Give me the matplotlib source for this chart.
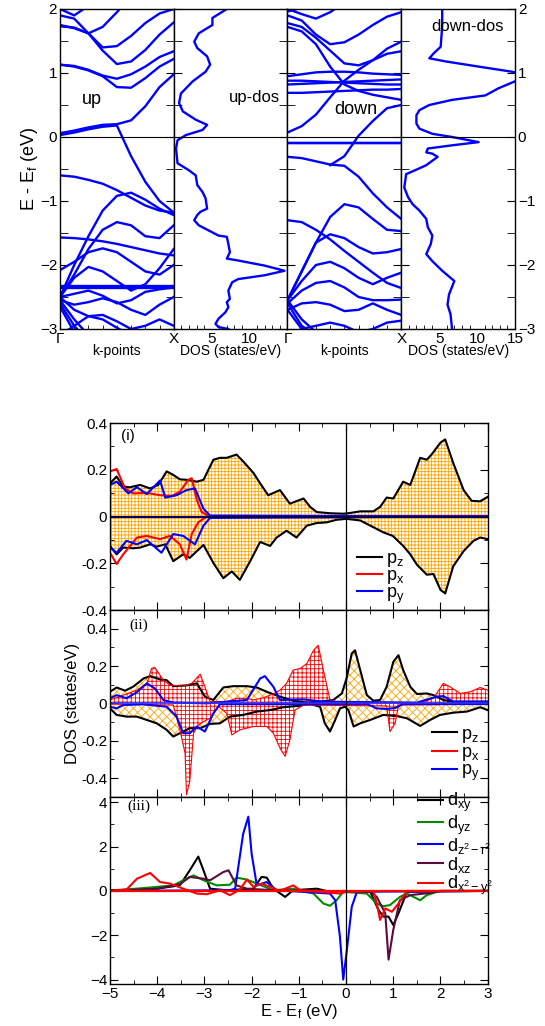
import numpy as np
import matplotlib
matplotlib.use("Agg")
import matplotlib.pyplot as plt
from matplotlib.ticker import MultipleLocator, FixedLocator

plt.rcParams['font.family'] = ['Liberation Sans', 'DejaVu Sans']
plt.rcParams['mathtext.fontset'] = 'custom'
plt.rcParams['mathtext.rm'] = 'Liberation Sans'
plt.rcParams['mathtext.it'] = 'Liberation Sans:italic'
plt.rcParams['hatch.linewidth'] = 0.6

n = np.nan
# ---------------- band structure data (k from Gamma to X) ----------------
k_pts = [0, 0.125, 0.25, 0.375, 0.5, 0.625, 0.75, 0.875, 1.0]

up_bands = [
    [0.06, 0.10, 0.15, 0.19, 0.20, 0.26, 0.48, 0.78, 0.98],
    [0.03, 0.07, 0.12, 0.16, 0.18, -0.30, -0.70, -1.00, -1.18],
    [1.13, 1.10, 1.04, 0.95, 0.78, 0.77, 0.92, 1.10, 1.22],
    [1.13, 1.11, 1.05, 0.96, 0.91, 0.98, 1.10, 1.25, 1.34],
    [1.73, 1.71, 1.62, 1.35, 1.14, 1.18, 1.36, 1.60, 1.79],
    [1.90, 1.85, 1.62, 1.40, 1.42, 1.58, 1.78, 1.93, 2.00],
    [1.75, 1.70, 1.62, 1.72, 1.95, 2.20, n, n, n],
    [2.00, 1.90, 2.05, n, n, n, n, n, n],
    [-0.60, -0.62, -0.67, -0.73, -0.83, -0.95, -1.07, -1.15, -1.18],
    [-2.50, -2.00, -1.55, -1.15, -0.92, -0.87, -0.98, -1.12, -1.22],
    [-1.57, -1.58, -1.60, -1.63, -1.67, -1.72, -1.77, -1.82, -1.85],
    [-2.50, -2.15, -1.75, -1.45, -1.33, -1.38, -1.55, -1.58, -1.38],
    [-2.08, -1.95, -1.80, -1.74, -1.80, -1.95, -2.10, -2.15, -2.00],
    [-2.33, -2.33, -2.33, -2.33, -2.33, -2.33, -2.33, -2.33, -2.33],
    [-2.36, -2.36, -2.36, -2.36, -2.36, -2.36, -2.36, -2.36, -2.36],
    [-2.50, -2.20, -2.03, -2.10, -2.25, -2.40, -2.30, -2.05, -1.75],
    [-2.50, -2.45, -2.40, -2.48, -2.60, -2.55, -2.42, -2.38, -2.35],
    [-2.55, -2.62, -2.58, -2.52, -2.58, -2.70, -2.78, -2.62, -2.50],
    [-2.50, -2.70, -2.80, -2.85, -2.98, -3.10, n, n, n],
    [-2.55, -2.85, -3.10, n, n, n, n, n, n],
    [-2.60, -2.95, -3.20, n, n, n, n, n, n],
    [-2.65, -3.05, n, n, n, n, n, n, n],
    [-3.10, -2.95, -2.80, -2.78, -2.88, -3.00, -2.95, -2.85, -2.95],
]

down_bands = [
    [0.07, 0.17, 0.35, 0.62, 0.88, 1.05, 1.20, 1.30, 1.34],
    [0.95, 0.98, 1.01, 1.02, 1.02, 1.01, 0.99, 0.98, 0.97],
    [0.88, 0.88, 0.87, 0.86, 0.85, 0.84, 0.83, 0.82, 0.82],
    [0.82, 0.83, 0.84, 0.85, 0.86, 0.87, 0.88, 0.89, 0.90],
    [0.69, 0.69, 0.70, 0.71, 0.72, 0.73, 0.74, 0.74, 0.75],
    [1.72, 1.65, 1.45, 1.10, 0.82, 0.72, 0.66, 0.62, 0.58],
    [1.78, 1.72, 1.55, 1.35, 1.15, 1.12, 1.20, 1.38, 1.49],
    [1.90, 1.82, 1.60, 1.45, 1.48, 1.60, 1.75, 1.88, 1.95],
    [2.00, 1.92, 1.85, 1.95, 2.10, n, n, n, n],
    [1.96, 2.02, n, n, n, n, n, n, n],
    [n, n, n, -0.44, -0.30, 0.02, 0.25, 0.45, 0.50],
    [-0.09, -0.09, -0.09, -0.09, -0.09, -0.09, -0.09, -0.09, -0.09],
    [-0.10, -0.10, -0.10, -0.10, -0.10, -0.10, -0.10, -0.10, -0.10],
    [-0.31, -0.33, -0.38, -0.43, -0.45, -0.62, -0.88, -1.10, -1.28],
    [-1.30, -1.33, -1.45, -1.60, -1.78, -1.95, -2.12, -2.28, -2.36],
    [-2.55, -2.10, -1.65, -1.25, -1.05, -1.10, -1.28, -1.45, -1.47],
    [-2.55, -2.10, -1.65, -1.52, -1.58, -1.72, -1.82, -1.80, -1.75],
    [-2.55, -2.25, -2.00, -1.95, -2.05, -2.20, -2.30, -2.20, -2.12],
    [-2.60, -2.40, -2.28, -2.25, -2.35, -2.50, -2.55, -2.55, -2.54],
    [-2.70, -2.60, -2.58, -2.62, -2.72, -2.70, -2.60, -2.70, -2.78],
    [-2.55, -2.85, -3.05, n, n, n, n, n, n],
    [-2.60, -2.95, -3.10, n, n, n, n, n, n],
    [-2.70, -3.00, n, n, n, n, n, n, n],
    [-3.10, -3.00, -2.95, -2.90, -2.95, -3.05, -3.00, -2.90, -2.87],
]

# ---------------- total DOS ----------------
up_dos_E = [2.0, 1.86, 1.75, 1.62, 1.49, 1.39, 1.26, 1.13, 1.02, 0.87, 0.68, 0.53, 0.40,
            0.27, 0.19, 0.11, 0.03, -0.05, -0.18, -0.41, -0.52, -0.60, -0.75, -0.86,
            -0.96, -1.12, -1.17, -1.22, -1.30, -1.38, -1.46, -1.54, -1.56, -1.67, -1.80,
            -1.90, -1.93, -2.01, -2.09, -2.16, -2.22, -2.27, -2.40, -2.53, -2.58, -2.66,
            -2.74, -2.84, -2.92, -2.97, -3.0]
up_dos = [7.0, 5.1, 5.1, 3.3, 2.7, 3.1, 4.4, 4.8, 4.2, 2.5, 0.95, 0.7, 1.2,
          2.9, 4.4, 3.8, 1.6, 0.5, 0.3, 0.5, 2.0, 2.9, 3.1, 3.8,
          4.2, 4.4, 3.5, 3.1, 2.7, 3.3, 4.6, 5.9, 7.0, 7.2, 7.4,
          7.0, 8.5, 12.0, 14.6, 12.0, 8.5, 7.7, 7.2, 7.4, 7.0, 7.2,
          6.8, 5.9, 5.5, 5.9, 7.2]

down_dos_E = [2.0, 1.73, 1.41, 1.31, 1.23, 1.18, 1.10, 1.02, 0.95, 0.86, 0.76, 0.65, 0.58,
              0.50, 0.42, 0.34, 0.21, 0.13, 0.05, 0.0, -0.08, -0.13, -0.18, -0.24,
              -0.26, -0.31, -0.44, -0.50, -0.58, -0.79, -0.94, -1.05, -1.15, -1.28,
              -1.41, -1.54, -1.67, -1.83, -1.94, -2.09, -2.25, -2.46, -2.62, -2.77, -3.0]
down_dos = [5.4, 5.4, 5.2, 4.3, 3.7, 5.9, 10.2, 14.6, 17.0, 14.8, 12.8, 11.1, 6.7,
            3.7, 2.4, 2.0, 2.0, 2.4, 4.1, 6.7, 10.2, 6.7, 3.5, 3.3,
            4.1, 4.8, 3.3, 2.2, 0.65, 0.4, 0.9, 1.5, 2.4, 3.3,
            3.5, 4.1, 3.9, 3.3, 4.1, 5.4, 7.0, 6.3, 6.1, 6.5, 6.7]

# ---------------- (i) p states ----------------
i_pz_up_E = [-5.0, -4.86, -4.72, -4.58, -4.36, -4.15, -3.98, -3.80, -3.66, -3.52, -3.38, -3.16,
             -3.02, -2.81, -2.67, -2.53, -2.32, -2.18, -1.96, -1.82, -1.65, -1.40, -1.19, -0.90,
             -0.76, -0.62, -0.34, -0.06, 0.05, 0.30, 0.58, 0.72, 0.86, 1.00, 1.21, 1.36, 1.57,
             1.71, 1.81, 2.00, 2.10, 2.27, 2.49, 2.66, 2.84, 3.0]
i_pz_up = [0.142, 0.171, 0.128, 0.125, 0.135, 0.12, 0.135, 0.193, 0.178, 0.159, 0.157, 0.149,
           0.157, 0.243, 0.251, 0.251, 0.265, 0.236, 0.186, 0.142, 0.091, 0.113, 0.055, 0.077,
           0.041, 0.019, 0.014, 0.012, 0.014, 0.022, 0.022, 0.041, 0.081, 0.077, 0.149, 0.135, 0.251,
           0.243, 0.265, 0.316, 0.330, 0.229, 0.113, 0.067, 0.065, 0.084]
i_pz_dn_E = [-5.0, -4.86, -4.72, -4.51, -4.36, -4.15, -4.01, -3.83, -3.66, -3.45, -3.31, -3.16,
             -3.02, -2.81, -2.60, -2.42, -2.25, -2.03, -1.82, -1.61, -1.47, -1.26, -1.05, -0.83,
             -0.62, -0.41, -0.20, 0.01, 0.30, 0.58, 0.79, 0.99, 1.21, 1.36, 1.50, 1.71, 1.85,
             2.00, 2.10, 2.27, 2.49, 2.70, 2.84, 3.0]
i_pz_dn = [-0.126, -0.162, -0.133, -0.136, -0.133, -0.119, -0.129, -0.119, -0.191, -0.162, -0.177, -0.148,
           -0.122, -0.199, -0.264, -0.235, -0.271, -0.191, -0.109, -0.126, -0.090, -0.061, -0.090, -0.039,
           -0.028, -0.025, -0.014, -0.010, -0.017, -0.046, -0.068, -0.083, -0.126, -0.162, -0.206, -0.249, -0.246,
           -0.314, -0.329, -0.213, -0.148, -0.104, -0.090, -0.097]
i_px_up_E = [-5.0, -4.86, -4.68, -4.51, -4.22, -3.94, -3.69, -3.52, -3.34, -3.27, -3.16, -3.06, -2.88, 3.0]
i_px_up = [0.193, 0.203, 0.120, 0.099, 0.101, 0.091, 0.088, 0.106, 0.157, 0.164, 0.070, 0.019, 0.0, 0.0]
i_px_dn_E = [-5.0, -4.86, -4.72, -4.43, -4.22, -3.94, -3.73, -3.52, -3.38, -3.27, -3.13, -2.95, 3.0]
i_px_dn = [-0.155, -0.203, -0.162, -0.090, -0.083, -0.097, -0.083, -0.119, -0.184, -0.075, -0.025, 0.0, 0.0]
i_py_up_E = [-5.0, -4.86, -4.61, -4.43, -4.22, -3.94, -3.83, -3.59, -3.38, -3.20, -3.02, -2.88, 3.0]
i_py_up = [0.135, 0.149, 0.099, 0.125, 0.096, 0.154, 0.081, 0.091, 0.113, 0.120, 0.033, 0.004, 0.0]
i_py_dn_E = [-5.0, -4.86, -4.65, -4.43, -4.22, -3.91, -3.66, -3.45, -3.20, -3.02, -2.88, 3.0]
i_py_dn = [-0.133, -0.155, -0.104, -0.119, -0.101, -0.155, -0.075, -0.083, -0.119, -0.039, -0.006, 0.0]

# ---------------- (ii) p states ----------------
ii_pz_up_E = [-5.0, -4.86, -4.68, -4.51, -4.29, -4.15, -3.94, -3.80, -3.66, -3.38, -3.16, -2.99,
              -2.81, -2.60, -2.39, -2.10, -1.89, -1.68, -1.40, -1.12, -0.83, -0.55, -0.27, -0.09,
              0.01, 0.12, 0.19, 0.30, 0.44, 0.58, 0.72, 0.86, 1.00, 1.11, 1.21, 1.36, 1.50, 1.71,
              1.85, 2.06, 2.27, 2.70, 3.0]
ii_pz_up = [0.062, 0.085, 0.068, 0.089, 0.133, 0.146, 0.128, 0.124, 0.092, 0.096, 0.107, 0.036,
            0.018, 0.085, 0.092, 0.092, 0.085, 0.062, 0.036, 0.014, 0.004, 0.009, 0.018, 0.053,
            0.133, 0.267, 0.284, 0.178, 0.044, 0.014, 0.018, 0.089, 0.222, 0.258, 0.178, 0.089, 0.050, 0.053,
            0.044, 0.018, 0.009, 0.009, 0.009]
ii_pz_dn_E = [-5.0, -4.86, -4.65, -4.43, -4.22, -4.01, -3.80, -3.66, -3.52, -3.31, -3.09, -2.88,
              -2.67, -2.46, -2.18, -1.89, -1.61, -1.33, -1.05, -0.76, -0.55, -0.45, -0.34, -0.23,
              -0.13, -0.02, 0.05, 0.16, 0.30, 0.51, 0.79, 1.07, 1.29, 1.57, 1.78, 1.99, 2.27,
              2.56, 2.84, 3.0]
ii_pz_dn = [-0.027, -0.062, -0.071, -0.071, -0.089, -0.107, -0.142, -0.178, -0.160, -0.133, -0.133, -0.110,
            -0.107, -0.071, -0.062, -0.044, -0.036, -0.021, -0.014, -0.004, -0.018, -0.107, -0.151, -0.089,
            -0.027, -0.018, -0.036, -0.124, -0.107, -0.089, -0.062, -0.068, -0.080, -0.121, -0.089, -0.062, -0.050,
            -0.044, -0.021, -0.036]
ii_px_up_E = [-5.0, -4.72, -4.43, -4.22, -4.12, -4.05, -3.87, -3.73, -3.45, -3.27, -3.09, -2.99,
              -2.88, -2.53, -2.32, -2.10, -1.96, -1.75, -1.55, -1.40, -1.26, -1.12, -0.97, -0.83,
              -0.69, -0.59, -0.48, -0.34, -0.13, 1.60, 1.85, 2.06, 2.20, 2.42, 2.63, 2.84, 3.0]
ii_px_up = [0.018, 0.044, 0.071, 0.107, 0.187, 0.192, 0.124, 0.098, 0.092, 0.107, 0.156, 0.089,
            0.009, 0.009, 0.027, 0.027, 0.018, 0.030, 0.050, 0.070, 0.107, 0.178, 0.187, 0.213,
            0.284, 0.311, 0.178, 0.018, 0.004, 0.004, 0.027, 0.107, 0.089, 0.053, 0.062, 0.085, 0.071]
ii_px_dn_E = [-5.0, -3.66, -3.52, -3.41, -3.38, -3.31, -3.23, -3.13, -3.02, -2.88, -2.70, -2.53,
              -2.42, -2.25, -1.96, -1.68, -1.54, -1.40, -1.29, -1.19, -1.08, -0.90, 0.86, 0.93,
              1.04, 1.11, 3.0]
ii_px_dn = [-0.004, -0.009, -0.142, -0.267, -0.489, -0.418, -0.160, -0.116, -0.098, -0.080, -0.018, -0.053,
            -0.169, -0.142, -0.124, -0.124, -0.160, -0.240, -0.284, -0.196, -0.036, -0.009, -0.014, -0.151,
            -0.107, -0.009, -0.004]
ii_py_up_E = [-5.0, -4.86, -4.65, -4.43, -4.22, -4.05, -3.87, -3.66, -2.95, -2.10, -1.82, -1.72,
              -1.54, -1.40, -0.90, -0.48, 1.50, 1.92, 2.06, 2.27, 3.0]
ii_py_up = [0.027, 0.044, 0.027, 0.060, 0.107, 0.080, 0.018, 0.004, 0.0, 0.018, 0.133, 0.146,
            0.089, 0.018, 0.021, 0.009, 0.004, 0.036, 0.039, 0.009, 0.009]
ii_py_dn_E = [-5.0, -4.86, -4.72, -4.30, -3.80, -3.59, -3.45, -3.31, -3.16, -2.99, -2.81, -2.67,
              0.45, 0.65, 0.86, 1.04, 1.20, 3.0]
ii_py_dn = [-0.018, -0.027, -0.009, -0.005, -0.018, -0.071, -0.160, -0.160, -0.124, -0.151, -0.053, -0.004,
            -0.004, -0.027, -0.030, -0.025, -0.004, -0.004]

# ---------------- (iii) d states ----------------
d_xy_E = [-5.0, -4.01, -3.52, -3.31, -3.13, -3.02, -2.88, -2.53, -1.96, -1.79, -1.68, -1.54, -1.29,
          -1.12, -0.62, -0.34, -0.06, 0.51, 0.69, 0.79, 0.90, 1.00, 1.11, 1.29, 3.0]
d_xy = [0.03, 0.10, 0.25, 0.93, 1.55, 0.93, 0.10, 0.03, 0.10, 0.63, 0.60, 0.10, -0.27,
        0.03, 0.10, -0.04, 0.0, -0.04, -0.87, -1.16, -1.16, -1.54, -1.01, -0.04, 0.0]
d_yz_E = [-5.0, -4.01, -3.66, -3.38, -3.23, -3.02, -2.74, -2.46, -2.32, -2.10, -1.89, -1.54, -1.12,
          -0.69, -0.48, -0.34, -0.20, -0.06, 0.44, 0.65, 0.79, 0.93, 1.14, 1.29, 1.57, 1.71, 1.99, 3.0]
d_yz = [0.0, 0.18, 0.25, 0.55, 0.70, 0.48, 0.25, 0.28, 0.60, 0.51, 0.33, 0.03, 0.10,
        -0.12, -0.57, -0.67, -0.42, -0.04, -0.12, -0.57, -0.69, -0.64, -0.27, -0.12, -0.42, -0.19, 0.0, 0.0]
d_z2_E = [-5.0, -2.46, -2.35, -2.18, -2.07, -2.00, -1.89, -1.68, -1.47, -0.34, -0.23, -0.13, -0.06,
          0.01, 0.12, 0.23, 3.0]
d_z2 = [0.0, 0.03, 0.10, 2.57, 3.35, 1.67, 0.25, 0.40, 0.03, -0.12, -0.42, -2.06, -4.0,
        -2.80, -0.72, -0.04, 0.0]
d_xz_E = [-5.0, -4.01, -3.52, -3.31, -3.02, -2.88, -2.60, -2.49, -2.32, -2.10, -1.54, 0.51, 0.65,
          0.83, 0.90, 1.00, 1.14, 1.36, 1.78, 1.99, 3.0]
d_xz = [0.0, 0.10, 0.30, 0.63, 0.55, 0.48, 0.85, 0.93, 0.25, 0.10, 0.03, -0.04, -0.27,
        -1.01, -3.10, -1.76, -0.42, -0.19, -0.09, 0.0, 0.0]
d_x2_E = [-5.0, -4.65, -4.43, -4.15, -3.94, -3.73, -3.45, -3.16, -2.95, -2.67, -2.46, -2.25, -2.10,
          -1.96, -1.79, -1.61, -1.40, -1.12, -0.97, -0.13, 0.01, 0.58, 0.65, 0.72, 0.83, 0.97,
          1.11, 1.29, 3.0]
d_x2 = [0.0, 0.06, 0.55, 0.81, 0.40, 0.33, 0.10, -0.12, -0.15, 0.03, -0.19, 0.06, 0.51,
        0.18, 0.33, 0.18, 0.0, 0.25, 0.03, -0.12, -0.04, 0.0, -0.57, -1.31, -0.79, -0.94,
        -0.57, 0.0, 0.0]

# ---------------- layout ----------------
W, H = 545, 1026
fig = plt.figure(figsize=(W / 100, H / 100), dpi=100)


def add_px(l, t, r, b):
    return fig.add_axes([l / W, 1 - b / H, (r - l) / W, (b - t) / H])


BLUE = '#0000ff'
FS = 11
pw = (515 - 60) / 4.0
top_axes = [add_px(60 + i * pw, 9, 60 + (i + 1) * pw, 329) for i in range(4)]


def style_top(ax):
    ax.set_ylim(-3, 2)
    ax.yaxis.set_major_locator(MultipleLocator(1))
    ax.yaxis.set_minor_locator(MultipleLocator(0.5))
    ax.tick_params(axis='both', which='both', direction='in', labelsize=FS,
                   left=True, right=True, top=False)
    ax.tick_params(axis='y', which='both', length=6)
    ax.tick_params(axis='x', which='major', length=0, pad=2)
    ax.tick_params(axis='x', which='minor', length=3)
    ax.axhline(0, color='k', lw=0.8)
    for s in ax.spines.values():
        s.set_linewidth(1.0)


for j, (bands, dos_E, dos, lab, dlab, lpos, dpos) in enumerate([
        (up_bands, up_dos_E, up_dos, 'up', 'up-dos', (0.28, 0.58), (10.6, 0.61)),
        (down_bands, down_dos_E, down_dos, 'down', 'down-dos', (0.6, 0.43), (8.7, 1.73))]):
    axb = top_axes[2 * j]
    axd = top_axes[2 * j + 1]
    for b in bands:
        axb.plot(k_pts, b, color=BLUE, lw=1.7, solid_joinstyle='round')
    axb.set_xlim(0, 1)
    style_top(axb)
    axb.xaxis.set_major_locator(FixedLocator([0, 1]))
    axb.set_xticklabels(['\u0393', 'X'])
    axb.xaxis.set_minor_locator(MultipleLocator(0.125))
    axb.text(lpos[0], lpos[1], lab, fontsize=13, ha='center', va='center')

    axd.plot(dos, dos_E, color=BLUE, lw=1.7)
    axd.set_xlim(0, 15)
    style_top(axd)
    axd.xaxis.set_major_locator(FixedLocator([5, 10] if j == 0 else [5, 10, 15]))
    axd.xaxis.set_minor_locator(MultipleLocator(1))
    axd.text(dpos[0], dpos[1], dlab, fontsize=12, ha='center', va='center')

for ax in top_axes:
    ax.tick_params(axis='y', labelleft=False, labelright=False)
top_axes[0].tick_params(axis='y', labelleft=True, pad=2)
top_axes[3].tick_params(axis='y', labelright=True, pad=2)
top_axes[0].set_ylabel('E - E$\\mathregular{_f}$ (eV)', fontsize=13, labelpad=0)

for i, txt in enumerate(['k-points', 'DOS (states/eV)', 'k-points', 'DOS (states/eV)']):
    cx = 60 + (i + 0.5) * pw
    fig.text(cx / W, 1 - 351 / H, txt, fontsize=10, ha='center', va='center')

# ---------------- bottom panels ----------------
ax1 = add_px(110, 423, 487.7, 610)
ax2 = add_px(110, 610, 487.7, 796.7)
ax3 = add_px(110, 796.7, 487.7, 984)

ORANGE = '#ffa500'

# (i)
ax1.fill_between(i_pz_up_E, 0, i_pz_up, facecolor='none', edgecolor=ORANGE, hatch='+++++', lw=0)
ax1.fill_between(i_pz_dn_E, 0, i_pz_dn, facecolor='none', edgecolor=ORANGE, hatch='+++++', lw=0)
ax1.axhline(0, color='k', lw=1.2)
ax1.plot(i_pz_up_E, i_pz_up, color='k', lw=1.5, label='$\\mathregular{p_z}$')
ax1.plot(i_pz_dn_E, i_pz_dn, color='k', lw=1.5)
ax1.plot(i_px_up_E, i_px_up, color='red', lw=1.5, label='$\\mathregular{p_x}$')
ax1.plot(i_px_dn_E, i_px_dn, color='red', lw=1.5)
ax1.plot(i_py_up_E, i_py_up, color=BLUE, lw=1.5, label='$\\mathregular{p_y}$')
ax1.plot(i_py_dn_E, i_py_dn, color=BLUE, lw=1.5)
ax1.axhline(0, color='#000060', lw=1.5)
ax1.set_ylim(-0.4, 0.4)

# (ii)
ax2.fill_between(ii_pz_up_E, 0, ii_pz_up, facecolor='none', edgecolor=ORANGE, hatch='xxxx', lw=0)
ax2.fill_between(ii_pz_dn_E, 0, ii_pz_dn, facecolor='none', edgecolor=ORANGE, hatch='xxxx', lw=0)
ax2.fill_between(ii_px_up_E, 0, ii_px_up, facecolor='white', edgecolor='red', hatch='++++', lw=0)
ax2.fill_between(ii_px_dn_E, 0, ii_px_dn, facecolor='white', edgecolor='red', hatch='++++', lw=0)
ax2.plot(ii_pz_up_E, ii_pz_up, color='k', lw=1.5, label='$\\mathregular{p_z}$')
ax2.plot(ii_pz_dn_E, ii_pz_dn, color='k', lw=1.5)
ax2.plot(ii_px_up_E, ii_px_up, color='red', lw=0.8)
ax2.plot(ii_px_dn_E, ii_px_dn, color='red', lw=0.8)
ax2.plot([], [], color='red', lw=1.5, label='$\\mathregular{p_x}$')
ax2.plot(ii_py_up_E, ii_py_up, color=BLUE, lw=1.5, label='$\\mathregular{p_y}$')
ax2.plot(ii_py_dn_E, ii_py_dn, color=BLUE, lw=1.5)
ax2.axhline(0, color='#3030ff', lw=1.2)
ax2.set_ylim(-0.5, 0.5)
ax2.set_ylabel('DOS (states/eV)', fontsize=12, labelpad=1)

# (iii)
ax3.plot(d_xy_E, d_xy, color='k', lw=1.5, label='$\\mathregular{d_{xy}}$')
ax3.plot(d_yz_E, d_yz, color='#008c00', lw=1.5, label='$\\mathregular{d_{yz}}$')
ax3.plot(d_z2_E, d_z2, color=BLUE, lw=1.5, label='$\\mathregular{d_{z^2-r^2}}$')
ax3.plot(d_xz_E, d_xz, color='#5c0a3c', lw=1.5, label='$\\mathregular{d_{xz}}$')
ax3.plot(d_x2_E, d_x2, color='red', lw=1.5, label='$\\mathregular{d_{x^2-y^2}}$')
ax3.axhline(0, color='red', lw=1.6)
ax3.set_ylim(-4.2, 4.25)
ax3.yaxis.set_major_locator(MultipleLocator(2))
ax3.yaxis.set_minor_locator(MultipleLocator(1))
ax3.set_xlabel('E - E$\\mathregular{_f}$ (eV)', fontsize=12, labelpad=1)

for ax in (ax1, ax2, ax3):
    ax.set_xlim(-5, 3)
    ax.axvline(0, color='k', lw=0.9)
    ax.xaxis.set_major_locator(MultipleLocator(1))
    ax.xaxis.set_minor_locator(MultipleLocator(0.5))
    ax.tick_params(axis='both', which='both', direction='in', top=True, right=True, labelsize=FS, pad=2)
    ax.tick_params(which='major', length=6)
    ax.tick_params(which='minor', length=3)
    for s in ax.spines.values():
        s.set_linewidth(1.0)
for ax in (ax1, ax2):
    ax.yaxis.set_major_locator(MultipleLocator(0.2))
    ax.yaxis.set_minor_locator(MultipleLocator(0.1))
    ax.yaxis.set_major_formatter(plt.FuncFormatter(lambda v, p: '0' if abs(v) < 1e-9 else '%g' % v))
    ax.tick_params(axis='x', labelbottom=False)

ax1.text(0.03, 0.93, '(i)', transform=ax1.transAxes, fontsize=11, ha='left', va='center')
ax2.text(0.05, 0.92, '(ii)', transform=ax2.transAxes, fontsize=11, ha='left', va='center',
         family='Liberation Serif')
ax3.text(0.045, 0.95, '(iii)', transform=ax3.transAxes, fontsize=11, ha='left', va='center',
         family='Liberation Serif')

leg_kw = dict(frameon=False, fontsize=13, handlelength=1.4, handletextpad=0.2,
              borderpad=0, borderaxespad=0, loc='upper left')
ax1.legend(bbox_to_anchor=(0.654, 0.32), labelspacing=-0.1, **leg_kw)
ax2.legend(bbox_to_anchor=(0.853, 0.38), labelspacing=-0.05, **leg_kw)
ax3.legend(bbox_to_anchor=(0.815, 1.03), labelspacing=-0.05, **leg_kw)

fig.savefig('out.png', dpi=100)
